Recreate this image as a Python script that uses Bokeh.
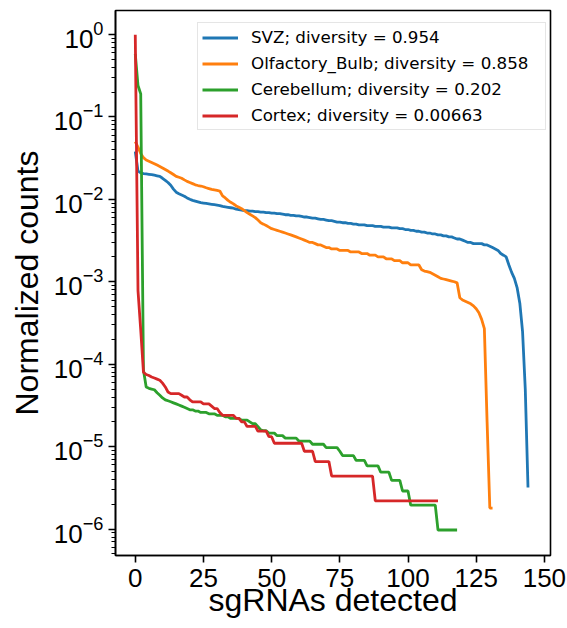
from bokeh.plotting import figure
from bokeh.models import Range1d, FixedTicker, Label, Legend, LegendItem
from bokeh.embed import file_html
from bokeh.resources import INLINE

# ---------------- data ----------------
series_names = ["SVZ; diversity = 0.954", "Olfactory_Bulb; diversity = 0.858",
                "Cerebellum; diversity = 0.202", "Cortex; diversity = 0.00663"]
series_colors = ["#1f77b4", "#ff7f0e", "#2ca02c", "#d62728"]

svz = [0.038, 0.022, 0.021, 0.0205, 0.0203, 0.0201, 0.0199, 0.0196, 0.0193, 0.019,
       0.018, 0.017, 0.016, 0.0148, 0.0133, 0.0122, 0.0117, 0.0113, 0.0109, 0.0104,
       0.0100, 0.0097, 0.0095, 0.0093, 0.0091, 0.0090, 0.0089, 0.0088, 0.0087, 0.0086,
       0.0085, 0.0084, 0.0082, 0.0081, 0.0080, 0.0079, 0.0078, 0.0076, 0.0075, 0.0074,
       0.0073, 0.0073, 0.0072, 0.0072, 0.0071, 0.0071, 0.0070, 0.0070, 0.0069, 0.0069,
       0.0068, 0.0068, 0.0067, 0.0067, 0.0066, 0.0065, 0.0065, 0.0064, 0.0064, 0.0063,
       0.0063, 0.0062, 0.0061, 0.0061, 0.0060, 0.0059, 0.0059, 0.0058, 0.0057, 0.0057,
       0.0056, 0.0055, 0.0055, 0.0054, 0.0053, 0.0053, 0.0052, 0.0052, 0.0051, 0.0051,
       0.0050, 0.0050, 0.0049, 0.0049, 0.0049, 0.0048, 0.0048, 0.0048, 0.0047, 0.0047,
       0.0047, 0.0046, 0.0046, 0.0046, 0.0045, 0.0045, 0.0045, 0.0044, 0.0044, 0.0043,
       0.0043, 0.0042, 0.0042, 0.0041, 0.0041, 0.0040, 0.0040, 0.0039, 0.0039, 0.0038,
       0.0038, 0.0037, 0.0037, 0.0036, 0.0036, 0.0035, 0.0035, 0.0034, 0.0033, 0.0033,
       0.0032, 0.0031, 0.0030, 0.0030, 0.0029, 0.0029, 0.0029, 0.0029, 0.0028, 0.0028,
       0.0027, 0.0026, 0.0025, 0.0024, 0.0022, 0.0021, 0.0020, 0.0016, 0.0013, 0.0011,
       0.00085, 0.00055, 0.00025, 5.0e-5, 3.2e-6]

olfactory_bulb = [0.050, 0.043, 0.036, 0.032, 0.030, 0.029, 0.028, 0.027, 0.026, 0.025,
                  0.024, 0.023, 0.022, 0.021, 0.020, 0.019, 0.0185, 0.018, 0.0172, 0.0165,
                  0.016, 0.0155, 0.015, 0.0147, 0.0145, 0.0142, 0.0138, 0.0135, 0.0132, 0.0130,
                  0.0128, 0.0126, 0.0110, 0.0104, 0.0097, 0.0092, 0.0088, 0.0083, 0.0080, 0.0077,
                  0.0073, 0.0069, 0.0066, 0.0063, 0.0060, 0.0056, 0.0052, 0.0050, 0.0048, 0.0046,
                  0.0044, 0.0043, 0.0042, 0.0041, 0.0040, 0.0039, 0.0038, 0.0037, 0.0036, 0.0035,
                  0.0034, 0.0033, 0.0032, 0.0031, 0.0030, 0.0030, 0.0029, 0.0028, 0.0028, 0.0027,
                  0.0026, 0.0026, 0.0025, 0.0025, 0.0025, 0.0024, 0.0024, 0.0024, 0.0024, 0.0023,
                  0.0023, 0.0023, 0.0023, 0.0022, 0.0022, 0.0022, 0.0021, 0.0021, 0.0021, 0.0020,
                  0.0020, 0.0020, 0.0019, 0.0019, 0.0019, 0.0018, 0.0018, 0.0018, 0.0017, 0.0017,
                  0.0017, 0.0016, 0.0016, 0.0016, 0.0016, 0.0014, 0.00135, 0.00133, 0.0013, 0.00125,
                  0.0012, 0.00115, 0.0011, 0.00108, 0.00106, 0.00104, 0.00102, 0.0010, 0.00097, 0.00064,
                  0.00060, 0.00058, 0.00056, 0.00054, 0.00051, 0.00047, 0.00042, 0.00035, 0.00027, 2.0e-5,
                  1.8e-6, 1.8e-6]

cerebellum = [0.58, 0.24, 0.19, 8.5e-5, 5.3e-5, 5.1e-5, 5.0e-5, 4.9e-5, 4.5e-5, 4.2e-5,
              3.9e-5, 3.7e-5, 3.6e-5, 3.5e-5, 3.4e-5, 3.3e-5, 3.2e-5, 3.1e-5, 3.0e-5, 2.9e-5,
              2.8e-5, 2.8e-5, 2.7e-5, 2.7e-5, 2.6e-5, 2.6e-5, 2.6e-5, 2.5e-5, 2.5e-5, 2.5e-5,
              2.4e-5, 2.4e-5, 2.4e-5, 2.3e-5, 2.3e-5, 2.2e-5, 2.2e-5, 2.2e-5, 2.2e-5, 2.1e-5,
              2.1e-5, 2.1e-5, 2.0e-5, 1.9e-5, 1.9e-5, 1.75e-5, 1.6e-5, 1.56e-5, 1.56e-5, 1.46e-5,
              1.46e-5, 1.46e-5, 1.36e-5, 1.36e-5, 1.36e-5, 1.27e-5, 1.27e-5, 1.27e-5, 1.27e-5, 1.27e-5,
              1.17e-5, 1.17e-5, 1.17e-5, 1.17e-5, 1.17e-5, 1.07e-5, 1.07e-5, 1.07e-5, 1.07e-5, 1.07e-5,
              9.75e-6, 9.75e-6, 9.75e-6, 9.75e-6, 9.75e-6, 8.8e-6, 7.8e-6, 7.8e-6, 7.8e-6, 7.8e-6,
              7.8e-6, 6.8e-6, 6.8e-6, 6.8e-6, 6.8e-6, 5.85e-6, 5.85e-6, 5.85e-6, 5.85e-6, 5.85e-6,
              4.9e-6, 4.9e-6, 4.9e-6, 4.9e-6, 3.9e-6, 3.9e-6, 3.9e-6, 3.9e-6, 2.9e-6, 2.9e-6,
              2.9e-6, 1.95e-6, 1.95e-6, 1.95e-6, 1.95e-6, 1.95e-6, 1.95e-6, 1.95e-6, 1.95e-6, 1.95e-6,
              1.95e-6, 9.75e-7, 9.75e-7, 9.75e-7, 9.75e-7, 9.75e-7, 9.75e-7, 9.75e-7, 9.75e-7]

cortex = [0.99, 7.8e-4, 2.6e-4, 8.0e-5, 7.5e-5, 7.3e-5, 7.0e-5, 6.8e-5, 6.6e-5, 6.4e-5,
          5.9e-5, 5.3e-5, 4.6e-5, 4.4e-5, 4.4e-5, 4.4e-5, 4.4e-5, 4.2e-5, 4.0e-5, 4.0e-5,
          3.7e-5, 3.5e-5, 3.5e-5, 3.5e-5, 3.5e-5, 3.3e-5, 3.3e-5, 3.3e-5, 3.1e-5, 2.9e-5,
          2.9e-5, 2.6e-5, 2.4e-5, 2.4e-5, 2.4e-5, 2.4e-5, 2.4e-5, 2.2e-5, 2.2e-5, 2.0e-5,
          2.0e-5, 1.76e-5, 1.76e-5, 1.76e-5, 1.76e-5, 1.54e-5, 1.54e-5, 1.54e-5, 1.54e-5, 1.32e-5,
          1.32e-5, 1.1e-5, 1.1e-5, 1.1e-5, 1.1e-5, 1.1e-5, 1.1e-5, 1.1e-5, 1.1e-5, 1.1e-5,
          1.1e-5, 1.1e-5, 8.8e-6, 8.8e-6, 8.8e-6, 8.8e-6, 6.6e-6, 6.6e-6, 6.6e-6, 6.6e-6,
          6.6e-6, 6.6e-6, 4.4e-6, 4.4e-6, 4.4e-6, 4.4e-6, 4.4e-6, 4.4e-6, 4.4e-6, 4.4e-6,
          4.4e-6, 4.4e-6, 4.4e-6, 4.4e-6, 4.4e-6, 4.4e-6, 4.4e-6, 4.4e-6, 2.2e-6, 2.2e-6,
          2.2e-6, 2.2e-6, 2.2e-6, 2.2e-6, 2.2e-6, 2.2e-6, 2.2e-6, 2.2e-6, 2.2e-6, 2.2e-6,
          2.2e-6, 2.2e-6, 2.2e-6, 2.2e-6, 2.2e-6, 2.2e-6, 2.2e-6, 2.2e-6, 2.2e-6, 2.2e-6,
          2.2e-6, 2.2e-6]

all_series = [svz, olfactory_bulb, cerebellum, cortex]

x_ticks = [0, 25, 50, 75, 100, 125, 150]
y_ticks = [1e-6, 1e-5, 1e-4, 1e-3, 1e-2, 1e-1, 1e0]

title_text = "3 weeks after infection"
x_label = "sgRNAs detected"
y_label = "Normalized counts"

# ---------------- figure ----------------
FONT = "Liberation Sans"
ymin, ymax = 10 ** -6.32, 10 ** 0.29
xmin, xmax = -7.25, 152.25
xmid = (xmin + xmax) / 2

p = figure(width=567, height=628,
           x_range=Range1d(xmin, xmax), y_range=Range1d(ymin, ymax),
           y_axis_type="log", output_backend="svg", toolbar_location=None,
           min_border_left=115, min_border_right=17,
           min_border_top=10, min_border_bottom=73)

p.xgrid.visible = False
p.ygrid.visible = False
p.outline_line_color = "black"
p.outline_line_width = 1.6
p.background_fill_color = "white"
p.border_fill_color = "white"

p.xaxis.ticker = FixedTicker(ticks=x_ticks, minor_ticks=[])
minor = [m * t for t in y_ticks[:-1] for m in range(2, 10)] + [m * 1e-7 for m in range(2, 10)] + [2.0]
p.yaxis.ticker = FixedTicker(ticks=y_ticks, minor_ticks=minor)

for ax in (p.xaxis[0], p.yaxis[0]):
    ax.axis_line_color = "black"
    ax.axis_line_width = 1.6
    ax.major_tick_line_color = "black"
    ax.major_tick_line_width = 1.6
    ax.minor_tick_line_color = "black"
    ax.minor_tick_line_width = 1.2
    ax.major_tick_in = 0
    ax.major_tick_out = 7
    ax.minor_tick_in = 0
    ax.minor_tick_out = 4
    ax.major_label_text_font = FONT
    ax.major_label_text_font_size = "26px"
    ax.major_label_text_color = "black"
    ax.axis_label_text_font = FONT
    ax.axis_label_text_font_size = "32px"
    ax.axis_label_text_font_style = "normal"
    ax.axis_label_text_color = "black"
p.xaxis.major_label_standoff = 6
p.yaxis.major_label_standoff = 5
p.xaxis.axis_label = x_label
p.yaxis.axis_label = y_label
p.xaxis.axis_label_standoff = -8
p.yaxis.axis_label_standoff = 6

items = []
for name, col, vals in zip(series_names, series_colors, all_series):
    r = p.line(list(range(len(vals))), vals, line_color=col, line_width=2.8)
    items.append(LegendItem(label=name, renderers=[r]))

legend = Legend(items=items, location=(82, 425),
                label_text_font="DejaVu Sans", label_text_font_size="16.7px",
                label_text_color="black",
                glyph_width=36, glyph_height=19, label_height=19, label_width=290,
                label_standoff=13, spacing=6, padding=4, margin=0,
                border_line_color="#cccccc", border_line_width=1,
                background_fill_alpha=0.85)
p.add_layout(legend)

# title (cut off at the top, as in the reference)
p.add_layout(Label(x=xmid, y=ymax, x_offset=3, y_offset=15,
                   text=title_text, text_align="center", text_baseline="alphabetic",
                   text_font=FONT, text_font_size="35px", text_color="black"))

open("out.html", "w").write(file_html(p, INLINE))
